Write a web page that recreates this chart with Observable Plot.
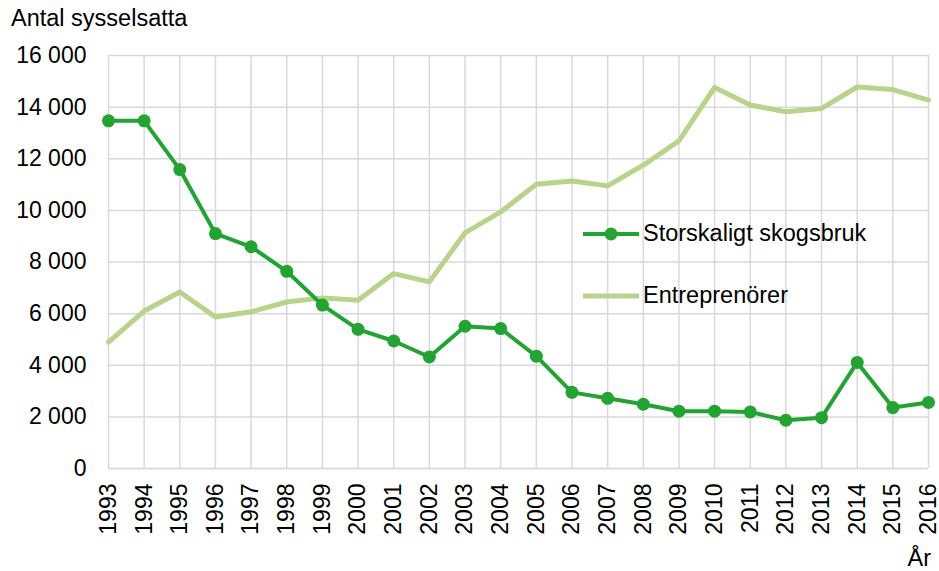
<!DOCTYPE html>
<html><head><meta charset="utf-8">
<script src="https://cdn.jsdelivr.net/npm/d3@7"></script>
<script src="https://cdn.jsdelivr.net/npm/@observablehq/plot@0.6"></script>
<style>
body{margin:0;background:#fff;font-family:"Liberation Sans",Arial,sans-serif;}
#wrap{position:relative;width:939px;height:571px;overflow:hidden;}
.t{position:absolute;font-size:23.5px;color:#000;white-space:nowrap;line-height:1;}
.sw{position:absolute;}
</style></head><body>
<div id="wrap"></div>
<script>
const years = [1993,1994,1995,1996,1997,1998,1999,2000,2001,2002,2003,2004,2005,2006,2007,2008,2009,2010,2011,2012,2013,2014,2015,2016];
const storskaligt = [13470,13470,11580,9100,8590,7640,6330,5390,4940,4320,5510,5420,4350,2950,2720,2490,2220,2220,2190,1870,1970,4110,2360,2560];
const entreprenorer = [4900,6100,6840,5870,6070,6450,6610,6520,7550,7230,9130,9940,11010,11140,10950,11750,12690,14760,14080,13820,13950,14780,14680,14270];
const yTicks = [0,2000,4000,6000,8000,10000,12000,14000,16000];
const seriesNames = ["Storskaligt skogsbruk","Entreprenörer"];
const colors = ["#22a332","#b8d38b"];
const titleText = "Antal sysselsatta";
const xLabel = "År";

const storData = years.map((y,i)=>({year:y, value:storskaligt[i]}));
const entData = years.map((y,i)=>({year:y, value:entreprenorer[i]}));
const fmt = n => d3.format(",")(n).replace(/,/g, "\u00a0");

const chart = Plot.plot({
  width: 939, height: 571,
  marginLeft: 108, marginRight: 11, marginTop: 55, marginBottom: 103,
  style: {fontFamily: '"Liberation Sans", Arial, sans-serif', fontSize: "23px", color: "#000", background: "#fff", overflow: "visible"},
  x: {type: "linear", domain: [1993, 2016]},
  y: {domain: [0, 16000]},
  marks: [
    Plot.gridX(years, {stroke: "#d9d9d9", strokeOpacity: 1, strokeWidth: 1.5}),
    Plot.gridY(yTicks, {stroke: "#d9d9d9", strokeOpacity: 1, strokeWidth: 1.5}),
    Plot.ruleY([0], {stroke: "#d9d9d9", strokeWidth: 1.5}),
    Plot.line(entData, {x: "year", y: "value", stroke: colors[1], strokeWidth: 5}),
    Plot.line(storData, {x: "year", y: "value", stroke: colors[0], strokeWidth: 4}),
    Plot.dot(storData, {x: "year", y: "value", r: 6.5, fill: colors[0]}),
    Plot.axisX({ticks: years, tickFormat: d => String(d), tickRotate: -90, tickSize: 0, tickPadding: 15, fontSize: 23, label: null}),
    Plot.axisY({ticks: yTicks, tickFormat: fmt, tickSize: 0, tickPadding: 22, fontSize: 23, label: null})
  ]
});
const wrap = document.getElementById("wrap");
wrap.appendChild(chart);

function addText(txt, css){
  const d = document.createElement("div");
  d.className = "t"; d.textContent = txt;
  Object.assign(d.style, css);
  wrap.appendChild(d);
}
addText(titleText, {left: "11px", top: "7px"});
addText(xLabel, {right: "8px", top: "547px"});
addText(seriesNames[0], {left: "643px", top: "222px"});
addText(seriesNames[1], {left: "643px", top: "284px"});

function swatch(top, color, dot, sw){
  const ns = "http://www.w3.org/2000/svg";
  const s = document.createElementNS(ns, "svg");
  s.setAttribute("class","sw"); s.setAttribute("width","56"); s.setAttribute("height","16");
  s.style.left = "583px"; s.style.top = (top-8) + "px";
  const l = document.createElementNS(ns, "line");
  l.setAttribute("x1","0"); l.setAttribute("x2","56"); l.setAttribute("y1","8"); l.setAttribute("y2","8");
  l.setAttribute("stroke", color); l.setAttribute("stroke-width", sw);
  s.appendChild(l);
  if (dot) {
    const c = document.createElementNS(ns, "circle");
    c.setAttribute("cx","28"); c.setAttribute("cy","8"); c.setAttribute("r","6.5"); c.setAttribute("fill", color);
    s.appendChild(c);
  }
  wrap.appendChild(s);
}
swatch(234, colors[0], true, 4);
swatch(296, colors[1], false, 5);
</script>
</body></html>
